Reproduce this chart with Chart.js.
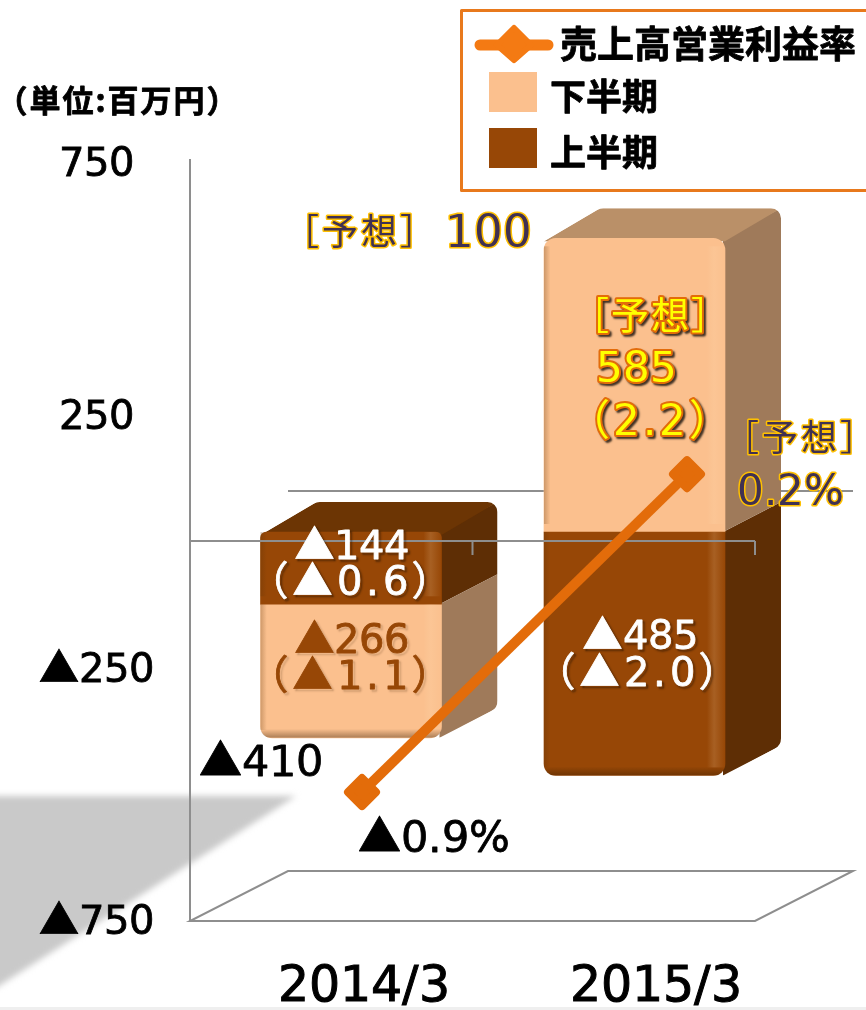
<!DOCTYPE html>
<html>
<head>
<meta charset="utf-8">
<script src="https://cdn.jsdelivr.net/npm/chart.js@4"></script>
<style>
@font-face { font-family: "LatinDigits"; src: local("DejaVu Sans"); unicode-range: U+0020-007E; }
html, body { margin: 0; padding: 0; background: #fff; }
canvas { display: block; }
</style>
</head>
<body>
<canvas id="myChart" width="866" height="1010"></canvas>
<script>
// chart values
var categories = ["2014/3", "2015/3"];
var firstHalf = [-144, -485];
var secondHalf = [-266, 585];
var totals = [-410, 100];
var firstHalfRatio = [-0.6, -2.0];
var secondHalfRatio = [-1.1, 2.2];
var profitRate = [-0.9, 0.2];
var tickValues = [750, 250, -250, -750];
var seriesNames = ["売上高営業利益率", "下半期", "上半期"];
var unitLabel = "（単位:百万円）";
var forecastLabel = "［予想］";

var FONT = '"LatinDigits", "Noto Sans CJK JP"';
var CJK = '"Noto Sans CJK JP"';
var GRID = "#8e8e8e";
var ORANGE = "#E36C0A";
var LIGHT = { front: "#FBC08E", side: "#9F7A5A", top: "#BA9068" };
var DARK = { front: "#974706", side: "#5E2E05", top: "#6C3504" };
var DX = 56, DY = -30;

// plot area on the page
var AREA = { left: 190, right: 853, top: 163, bottom: 921 };

function mark(v) { return v < 0 ? "▲" + Math.abs(v) : "" + v; }
function markRate(v) { return v < 0 ? "▲" + Math.abs(v).toFixed(1) : v.toFixed(1); }
function paren(v) { return "（" + markRate(v) + "）"; }
function points(values) { return values.map(function (v, i) { return { x: i, y: v }; }); }

// min/max for a hidden x scale so that index 0 and 1 land on the given pixels
function xRange(px0, px1) {
  var unit = px1 - px0;
  return { min: (AREA.left - px0) / unit, max: (AREA.right - px0) / unit };
}
// min/max for a y scale with zero at a pixel and a px-per-unit ratio
function yRange(zeroPx, ratio) {
  return { min: -(AREA.bottom - zeroPx) / ratio, max: (zeroPx - AREA.top) / ratio };
}

function roundPoly(ctx, pts, radii) {
  var n = pts.length;
  ctx.beginPath();
  var last = pts[n - 1], first = pts[0];
  ctx.moveTo((last[0] + first[0]) / 2, (last[1] + first[1]) / 2);
  for (var i = 0; i < n; i++) {
    var p = pts[i], q = pts[(i + 1) % n];
    ctx.arcTo(p[0], p[1], q[0], q[1], radii[i] || 0);
  }
  ctx.closePath();
}

function text(ctx, str, x, y, font, fill, opts) {
  opts = opts || {};
  ctx.save();
  ctx.font = font + " " + (opts.family || FONT);
  ctx.textAlign = "center";
  ctx.textBaseline = "middle";
  ctx.lineJoin = "round";
  if (opts.spacing) ctx.letterSpacing = opts.spacing + "px";
  if (!opts.family) y += 4; // the digit font sits high on a middle baseline
  if (opts.shadow) {
    ctx.shadowColor = opts.shadow;
    ctx.shadowOffsetX = 2;
    ctx.shadowOffsetY = 2;
    ctx.shadowBlur = 2;
  }
  ctx.strokeStyle = opts.stroke || fill;
  ctx.lineWidth = opts.strokeWidth || 0.8;
  ctx.strokeText(str, x, y);
  ctx.shadowColor = "transparent";
  ctx.fillStyle = fill;
  ctx.fillText(str, x, y);
  ctx.restore();
}

function line(ctx, x1, y1, x2, y2) {
  ctx.beginPath();
  ctx.moveTo(x1, y1);
  ctx.lineTo(x2, y2);
  ctx.stroke();
}

var decorPlugin = {
  id: "decor",
  // page background and the big grey shadow at the lower left
  beforeDraw: function (chart) {
    var ctx = chart.ctx;
    ctx.save();
    ctx.fillStyle = "#fff";
    ctx.fillRect(0, 0, 866, 1010);
    ctx.filter = "blur(3px)";
    ctx.fillStyle = "#c9c9c9";
    ctx.beginPath();
    ctx.moveTo(-20, 796);
    ctx.lineTo(296, 796);
    ctx.lineTo(-20, 998);
    ctx.closePath();
    ctx.fill();
    ctx.filter = "none";
    ctx.fillStyle = "#efefef";
    ctx.fillRect(0, 1007, 866, 3);
    ctx.restore();
  },
  // floor, back zero line and the side/top faces of the bars
  beforeDatasetsDraw: function (chart) {
    var ctx = chart.ctx;
    var a = chart.chartArea;
    var zero = (a.top + a.bottom) / 2 - 1;
    var frontRight = a.right - 98;
    ctx.save();
    ctx.strokeStyle = GRID;
    ctx.lineWidth = 2;
    line(ctx, a.left, a.top - 4, a.left, a.top);
    ctx.beginPath();
    ctx.moveTo(a.left, a.bottom);
    ctx.lineTo(frontRight, a.bottom);
    ctx.lineTo(a.right, a.bottom - 50);
    ctx.lineTo(a.left + 98, a.bottom - 50);
    ctx.closePath();
    ctx.stroke();
    line(ctx, a.left + 98, zero - 50, a.right, zero - 50);

    var dark = chart.getDatasetMeta(1).data;
    var light = chart.getDatasetMeta(2).data;
    categories.forEach(function (c, i) {
      var parts = [{ el: dark[i], col: DARK }, { el: light[i], col: LIGHT }];
      var tops = parts.map(function (p) { return Math.min(p.el.y, p.el.base); });
      var bottoms = parts.map(function (p) { return Math.max(p.el.y, p.el.base); });
      var highest = Math.min.apply(null, tops);
      var lowest = Math.max.apply(null, bottoms);
      var right = dark[i].x + dark[i].width / 2;
      var left = dark[i].x - dark[i].width / 2;

      // whole box outline, so the rounded back corners are shared by both faces
      ctx.save();
      roundPoly(ctx, [[left, highest + 3], [left + DX, highest + DY], [right + DX, highest + DY],
        [right + DX, lowest + DY], [right, lowest], [left, lowest]], [0, 12, 10, 12, 6, 0]);
      ctx.clip();
      parts.forEach(function (p, k) {
        var t = tops[k], b = bottoms[k];
        ctx.fillStyle = p.col.side;
        ctx.beginPath();
        ctx.moveTo(right - 2, t);
        ctx.lineTo(right + DX, t + DY);
        ctx.lineTo(right + DX, b + DY);
        ctx.lineTo(right - 2, b);
        ctx.closePath();
        ctx.fill();
        if (t === highest) {
          ctx.fillStyle = p.col.top;
          ctx.beginPath();
          ctx.moveTo(left, t + 3);
          ctx.lineTo(left + DX, t + DY);
          ctx.lineTo(right + DX, t + DY);
          ctx.lineTo(right, t + 3);
          ctx.closePath();
          ctx.fill();
        }
      });
      ctx.restore();
    });
    ctx.restore();
  },
  // bevel on the bar fronts and the front zero line go between bars and the rate line
  beforeDatasetDraw: function (chart, args) {
    if (args.meta.type !== "line") return;
    var ctx = chart.ctx;
    var a = chart.chartArea;
    var zero = (a.top + a.bottom) / 2 - 1;
    var frontRight = a.right - 98;
    [1, 2].forEach(function (d) {
      chart.getDatasetMeta(d).data.forEach(function (el) {
        var left = el.x - el.width / 2, right = el.x + el.width / 2;
        var t = Math.min(el.y, el.base), h = Math.abs(el.y - el.base);
        var g = ctx.createLinearGradient(left, 0, right, 0);
        g.addColorStop(0, "rgba(90,50,10,0.28)");
        g.addColorStop(0.035, "rgba(90,50,10,0)");
        g.addColorStop(0.9, "rgba(255,230,190,0)");
        g.addColorStop(0.94, "rgba(255,225,185,0.16)");
        g.addColorStop(1, "rgba(255,225,185,0)");
        ctx.save();
        ctx.fillStyle = g;
        ctx.fillRect(left, t + (t < 300 ? 8 : 0), el.width, h - 8 - (t < 300 ? 8 : 0));
        ctx.restore();
      });
    });
    // dark lip along the lowest edge of each stack
    categories.forEach(function (c, i) {
      var el = [chart.getDatasetMeta(1).data[i], chart.getDatasetMeta(2).data[i]];
      var low = Math.max(el[0].y, el[0].base) > Math.max(el[1].y, el[1].base) ? el[0] : el[1];
      var b = Math.max(low.y, low.base);
      var g = ctx.createLinearGradient(0, b - 9, 0, b);
      g.addColorStop(0, "rgba(50,25,0,0)");
      g.addColorStop(1, "rgba(50,25,0,0.4)");
      ctx.save();
      ctx.fillStyle = g;
      ctx.beginPath();
      ctx.roundRect(low.x - low.width / 2, b - 20, low.width, 20, 12);
      ctx.clip();
      ctx.fillRect(low.x - low.width / 2, b - 9, low.width, 9);
      ctx.restore();
    });
    ctx.save();
    ctx.strokeStyle = GRID;
    ctx.lineWidth = 2;
    line(ctx, a.left, zero, frontRight, zero);
    line(ctx, frontRight, zero, frontRight, zero + 14);
    line(ctx, (a.left + frontRight) / 2, zero, (a.left + frontRight) / 2, zero + 14);
    ctx.restore();
    ctx.lineJoin = "round";
  },
  // value labels, unit and legend
  afterDatasetsDraw: function (chart) {
    var ctx = chart.ctx;
    var shadow = "rgba(0,0,0,0.75)";
    var softShadow = "rgba(60,30,0,0.4)";
    var purple = "#403152", gold = "#FFC000";

    text(ctx, unitLabel, 118, 100, "bold 31px", "#000", { family: CJK, spacing: 2 });

    text(ctx, mark(firstHalf[0]), 352, 545, "40px", "#fff", { shadow: shadow });
    text(ctx, paren(firstHalfRatio[0]), 352, 581, "40px", "#fff", { shadow: shadow, spacing: 4 });
    text(ctx, mark(secondHalf[0]), 352, 639, "40px", DARK.front, { shadow: softShadow });
    text(ctx, paren(secondHalfRatio[0]), 352, 675, "40px", DARK.front, { shadow: softShadow, spacing: 4 });
    text(ctx, mark(firstHalf[1]), 640, 635, "40px", "#fff", { shadow: shadow });
    text(ctx, paren(firstHalfRatio[1]), 639, 672, "40px", "#fff", { shadow: shadow, spacing: 4 });

    text(ctx, mark(totals[0]), 261, 761, "43px", "#000");
    text(ctx, markRate(profitRate[0]) + "%", 434, 837, "43px", "#000");

    text(ctx, forecastLabel, 361, 231, "36px", purple, { stroke: gold, strokeWidth: 3, family: CJK, spacing: 3 });
    text(ctx, mark(totals[1]), 488, 231, "45px", purple, { stroke: gold, strokeWidth: 3 });

    text(ctx, forecastLabel, 651, 315, "38px", "#FFFF00", { stroke: ORANGE, strokeWidth: 4, shadow: shadow, family: CJK, spacing: 2 });
    text(ctx, mark(secondHalf[1]), 636, 367, "42px", "#FFFF00", { stroke: ORANGE, strokeWidth: 4, shadow: shadow });
    text(ctx, "（" + secondHalfRatio[1].toFixed(1) + "）", 651, 420, "42px", "#FFFF00", { stroke: ORANGE, strokeWidth: 4, shadow: shadow, spacing: 3 });

    text(ctx, forecastLabel, 801, 437, "36px", purple, { stroke: gold, strokeWidth: 3, family: CJK, spacing: 3 });
    text(ctx, markRate(profitRate[1]) + "%", 790, 490, "42px", purple, { stroke: gold, strokeWidth: 3 });

    // legend box
    ctx.save();
    ctx.fillStyle = "#fff";
    ctx.fillRect(461, 10, 405, 181);
    ctx.strokeStyle = "#E8791C";
    ctx.lineWidth = 3;
    ctx.strokeRect(461.5, 10.5, 410, 180);
    ctx.strokeStyle = "#F47A13";
    ctx.lineWidth = 11;
    ctx.lineCap = "round";
    line(ctx, 480, 45, 548, 45);
    ctx.fillStyle = "#F47A13";
    ctx.lineWidth = 6;
    ctx.lineJoin = "round";
    ctx.beginPath();
    ctx.moveTo(514, 28);
    ctx.lineTo(531, 45);
    ctx.lineTo(514, 60);
    ctx.lineTo(497, 45);
    ctx.closePath();
    ctx.fill();
    ctx.stroke();
    ctx.fillStyle = LIGHT.front;
    ctx.fillRect(489, 72, 48, 40);
    ctx.fillStyle = DARK.front;
    ctx.fillRect(489, 128, 48, 40);
    ctx.restore();
    text(ctx, seriesNames[0], 708, 44, "bold 37px", "#000", { family: CJK });
    text(ctx, seriesNames[1], 604, 96, "bold 36px", "#000", { family: CJK });
    text(ctx, seriesNames[2], 604, 152, "bold 36px", "#000", { family: CJK });
  }
};

function drawChart() {
  var barX = xRange(351, 634.5);
  var rateX = xRange(362, 687);
  var tickX = xRange(364, 655.5);
  var barY = yRange(532, 0.502);
  var rateY = yRange(532, 289);
  var labelY = yRange(545, 0.5053); // tick text sits a little under its line

  var ctx = document.getElementById("myChart");
  new Chart(ctx, {
    type: "bar",
    data: {
      datasets: [
        {
          type: "line",
          label: seriesNames[0],
          data: points(profitRate),
          xAxisID: "xRate",
          yAxisID: "yRate",
          order: 0,
          borderColor: ORANGE,
          backgroundColor: ORANGE,
          borderWidth: 10,
          tension: 0,
          pointStyle: "rectRot",
          pointRadius: 14,
          pointBorderWidth: 8,
          pointBackgroundColor: ORANGE,
          pointBorderColor: ORANGE
        },
        {
          label: seriesNames[2],
          data: points(firstHalf),
          xAxisID: "xBars",
          yAxisID: "yBars",
          order: 1,
          grouped: false,
          backgroundColor: DARK.front,
          barThickness: 181,
          borderSkipped: false,
          borderRadius: function (c) {
            return c.dataIndex === 1 ? { topLeft: 0, topRight: 0, bottomLeft: 12, bottomRight: 12 } : { topLeft: 6, topRight: 6, bottomLeft: 0, bottomRight: 0 };
          }
        },
        {
          label: seriesNames[1],
          data: points(secondHalf),
          xAxisID: "xBars",
          yAxisID: "yBars",
          order: 2,
          grouped: false,
          backgroundColor: LIGHT.front,
          barThickness: 181,
          borderSkipped: false,
          borderRadius: function (c) {
            return c.dataIndex === 1 ? { topLeft: 12, topRight: 12, bottomLeft: 0, bottomRight: 0 } : { topLeft: 0, topRight: 0, bottomLeft: 12, bottomRight: 12 };
          }
        }
      ]
    },
    options: {
      responsive: false,
      animation: false,
      layout: { autoPadding: false, padding: { left: 0, right: 866 - AREA.right, top: AREA.top, bottom: 0 } },
      plugins: { legend: { display: false }, title: { display: false }, tooltip: { enabled: false } },
      scales: {
        x: {
          type: "linear",
          position: "bottom",
          offset: false,
          min: tickX.min,
          max: tickX.max,
          grid: { display: false, drawTicks: false },
          border: { display: false },
          afterBuildTicks: function (scale) {
            scale.ticks = categories.map(function (c, i) { return { value: i }; });
          },
          afterFit: function (scale) { scale.height = 1010 - AREA.bottom; },
          ticks: {
            autoSkip: false,
            maxRotation: 0,
            padding: 38,
            color: "#000",
            textStrokeColor: "#000",
            textStrokeWidth: 1,
            font: { family: FONT, size: 49 },
            callback: function (v) { return categories[v]; }
          }
        },
        xBars: { type: "linear", display: false, offset: false, min: barX.min, max: barX.max, stacked: true },
        xRate: { type: "linear", display: false, offset: false, min: rateX.min, max: rateX.max },
        y: {
          position: "left",
          min: labelY.min,
          max: labelY.max,
          grid: { display: false, drawTicks: false },
          border: { display: true, color: GRID, width: 2 },
          afterBuildTicks: function (scale) {
            scale.ticks = tickValues.map(function (v) { return { value: v }; });
          },
          afterFit: function (scale) { scale.width = AREA.left; },
          ticks: {
            crossAlign: "center",
            padding: 36,
            color: "#000",
            textStrokeColor: "#000",
            textStrokeWidth: 0.8,
            font: { family: FONT, size: 40 },
            callback: function (v) { return mark(v); }
          }
        },
        yBars: { type: "linear", display: false, min: barY.min, max: barY.max, stacked: true },
        yRate: { type: "linear", display: false, min: rateY.min, max: rateY.max }
      }
    },
    plugins: [decorPlugin]
  });
}

// local() font has to be ready before the canvas uses it
Promise.all([
  document.fonts.load('40px "LatinDigits"', "0"),
  document.fonts.load('40px "Noto Sans CJK JP"', "上")
]).then(drawChart, drawChart);
</script>
</body>
</html>
